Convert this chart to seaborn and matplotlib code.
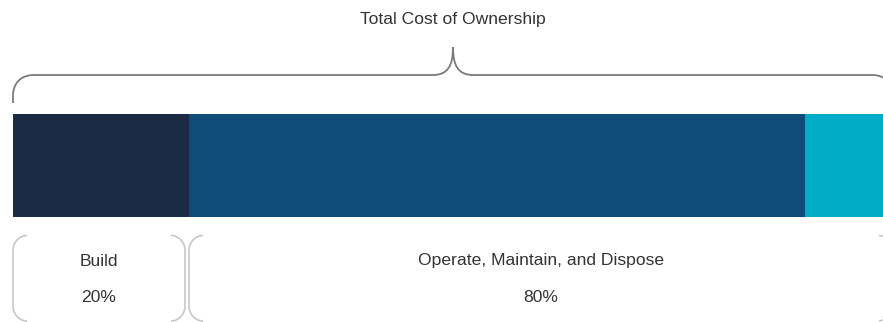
import numpy as np
import pandas as pd
import seaborn as sns
from matplotlib import pyplot as plt
from matplotlib.path import Path
from matplotlib.patches import PathPatch

# cost phases across the bar (percent of total)
segments = ["Build", "Operate & Maintain", "Dispose"]
shares = [20, 70, 10]
seg_colors = ["#1b2b46", "#104c7a", "#00acc8"]

# bottom groups
groups = ["Build", "Operate, Maintain, and Dispose"]
group_pct = ["20%", "80%"]
group_spans = [(0, 19.55), (20.0, 100)]

title = "Total Cost of Ownership"

W, H = 883, 322
PX = 8.8            # pixels per percent
X0 = -13 / PX
X1 = X0 + W / PX


def main():
    sns.set_theme(style="white")
    plt.rcParams["font.family"] = ["Liberation Sans", "DejaVu Sans"]
    fig = plt.figure(figsize=(W / 100, H / 100), dpi=100)

    # stacked bar
    axb = fig.add_axes([0, 1 - 217 / H, 1, 103 / H])
    df = pd.DataFrame({"segment": segments, "share": shares})
    df["cum"] = np.cumsum(df["share"])
    for i in reversed(range(len(df))):
        sns.barplot(x=[df["cum"][i]], y=["tco"], orient="h", width=1,
                    color=seg_colors[i], saturation=1, ax=axb, linewidth=0)
    axb.set_xlim(X0, X1)
    axb.set_ylim(0.5, -0.5)
    axb.axis("off")

    # overlay for brace, brackets and text (x in percent, y in pixels)
    ax = fig.add_axes([0, 0, 1, 1], facecolor="none")
    ax.set_xlim(X0, X1)
    ax.set_ylim(H, 0)
    ax.axis("off")

    # top brace
    c = 50
    verts = [(0, 103), (0, 96),
             (0, 83), (0.9, 75), (2.4, 75),
             (c - 2.3, 75),
             (c - 0.6, 75), (c, 66), (c, 47),
             (c, 66), (c + 0.6, 75), (c + 2.3, 75),
             (100 - 2.4, 75),
             (100 - 0.9, 75), (100, 83), (100, 96),
             (100, 103)]
    codes = [Path.MOVETO, Path.LINETO,
             Path.CURVE4, Path.CURVE4, Path.CURVE4,
             Path.LINETO,
             Path.CURVE4, Path.CURVE4, Path.CURVE4,
             Path.CURVE4, Path.CURVE4, Path.CURVE4,
             Path.LINETO,
             Path.CURVE4, Path.CURVE4, Path.CURVE4,
             Path.LINETO]
    ax.add_patch(PathPatch(Path(verts, codes), fill=False, edgecolor="#7a7a7a", lw=1.3))
    ax.text(c, 19, title, ha="center", va="center", fontsize=12.6, color="#333333")

    # bottom brackets
    top, bot = 235.5, 321
    for (x0, x1), name, pct in zip(group_spans, groups, group_pct):
        for xe, d in ((x0, 1), (x1, -1)):
            v = [(xe + d * 1.6, top), (xe + d * 0.7, top), (xe, top + 7), (xe, top + 15),
                 (xe, bot - 15), (xe, bot - 7), (xe + d * 0.7, bot), (xe + d * 1.6, bot)]
            cd = [Path.MOVETO, Path.CURVE4, Path.CURVE4, Path.CURVE4,
                  Path.LINETO, Path.CURVE4, Path.CURVE4, Path.CURVE4]
            ax.add_patch(PathPatch(Path(v, cd), fill=False, edgecolor="#c8c8c8", lw=1.2))
        xm = (x0 + x1) / 2
        ax.text(xm, 261, name, ha="center", va="center", fontsize=12.6, color="#333333")
        ax.text(xm, 298, pct, ha="center", va="center", fontsize=12.6, color="#333333")

    fig.savefig("out.png", dpi=100)


if __name__ == "__main__":
    main()
